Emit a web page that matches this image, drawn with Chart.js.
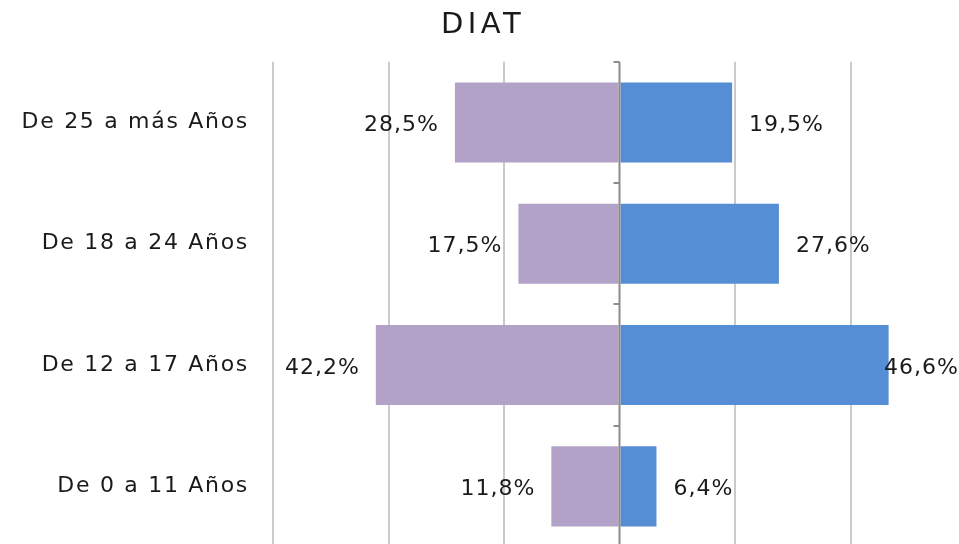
<!DOCTYPE html>
<html>
<head>
<meta charset="utf-8">
<script src="https://cdn.jsdelivr.net/npm/chart.js@4/dist/chart.umd.min.js"></script>
<style>
html, body { margin:0; padding:0; overflow:hidden; background:#fff; }
canvas { display:block; }
</style>
</head>
<body>
<canvas id="c" width="966" height="547" style="width:966px;height:547px"></canvas>
<script>
const categories = ["De 25 a más Años", "De 18 a 24 Años", "De 12 a 17 Años", "De 0 a 11 Años"];
const leftValues = [28.5, 17.5, 42.2, 11.8];   // purple, drawn to the left
const rightValues = [19.5, 27.6, 46.6, 6.4];   // blue, drawn to the right
const gridTicks = [-60, -40, -20, 0, 20, 40, 60];
const titleText = "DIAT";

const FONT = "'DejaVu Sans', sans-serif";
const SPACING = '1.7px';
const fmt = v => Math.abs(v).toFixed(1).replace('.', ',') + '%';

const spacingPlugin = {
  id: 'spacing',
  afterInit(chart) {
    const tb = chart.titleBlock;
    if (tb) {
      const orig = tb.draw.bind(tb);
      tb.draw = function () {
        const ctx = chart.ctx;
        const prev = ctx.letterSpacing;
        ctx.letterSpacing = '4.5px';
        orig();
        ctx.letterSpacing = prev;
      };
    }
  },
  beforeLayout(chart) { chart.ctx.letterSpacing = SPACING; },
  beforeDraw(chart) { chart.ctx.letterSpacing = SPACING; }
};

const labelPlugin = {
  id: 'barLabels',
  afterDatasetsDraw(chart) {
    const ctx = chart.ctx;
    ctx.save();
    ctx.letterSpacing = '1px';
    ctx.font = '22px ' + FONT;
    ctx.fillStyle = '#1a1a1a';
    ctx.textBaseline = 'middle';
    ctx.textAlign = 'left';
    const visibleRight = 959;
    chart.data.datasets.forEach((ds, di) => {
      const meta = chart.getDatasetMeta(di);
      meta.data.forEach((bar, i) => {
        const v = ds.data[i];
        const txt = fmt(v);
        const w = ctx.measureText(txt).width;
        let x;
        if (v < 0) {
          x = bar.x - 16 - w;
        } else {
          x = bar.x + 17;
          if (x + w > visibleRight) x = visibleRight - w;
        }
        ctx.fillText(txt, x, bar.y + 3);
      });
    });
    ctx.restore();
  }
};

const axisTicksPlugin = {
  id: 'axisTicks',
  afterDatasetsDraw(chart) {
    const ctx = chart.ctx;
    const xs = chart.scales.x, ys = chart.scales.y;
    const x0 = xs.getPixelForValue(0);
    const n = categories.length;
    const step = (ys.bottom - ys.top) / n;
    ctx.save();
    ctx.strokeStyle = '#8c8c8c';
    ctx.lineWidth = 2;
    ctx.beginPath();
    ctx.moveTo(x0, ys.top);
    ctx.lineTo(x0, ys.bottom);
    ctx.stroke();
    for (let k = 0; k <= n; k++) {
      const y = Math.round(ys.top + k * step);
      ctx.beginPath();
      ctx.moveTo(x0 - 6, y);
      ctx.lineTo(x0, y);
      ctx.stroke();
    }
    ctx.restore();
  }
};

new Chart(document.getElementById('c'), {
  type: 'bar',
  data: {
    labels: categories,
    datasets: [
      { label: 'Serie 1', data: leftValues.map(v => -v), backgroundColor: '#B3A2C7',
        categoryPercentage: 0.66, barPercentage: 1.0 },
      { label: 'Serie 2', data: rightValues, backgroundColor: '#558ED5',
        categoryPercentage: 0.66, barPercentage: 1.0 }
    ]
  },
  options: {
    indexAxis: 'y',
    responsive: false,
    maintainAspectRatio: false,
    devicePixelRatio: 1,
    animation: false,
    layout: { padding: { left: 0, right: 0, top: 0, bottom: 0 } },
    plugins: {
      legend: { display: false },
      tooltip: { enabled: false },
      title: {
        display: true, text: titleText, color: '#1a1a1a',
        font: { family: FONT, size: 29, weight: 'normal' },
        padding: { top: 8, bottom: 19 }
      }
    },
    scales: {
      x: {
        stacked: true, min: -60, max: 60,
        afterBuildTicks(scale) { scale.ticks = gridTicks.map(v => ({ value: v })); },
        afterFit(scale) { scale.height = 0; },
        ticks: { display: false },
        border: { display: false },
        grid: {
          drawTicks: false,
          color: c => c.tick && c.tick.value === 0 ? 'rgba(0,0,0,0)' : '#cacaca',
          lineWidth: 2
        }
      },
      y: {
        stacked: true,
        border: { display: false },
        grid: { display: false },
        afterFit(scale) {
          scale.width = 273;
          scale.paddingTop = 0;
          scale.paddingBottom = 0;
        },
        ticks: { color: '#1a1a1a', padding: 16, font: { family: FONT, size: 22 } }
      }
    }
  },
  plugins: [spacingPlugin, labelPlugin, axisTicksPlugin]
});
</script>
</body>
</html>
